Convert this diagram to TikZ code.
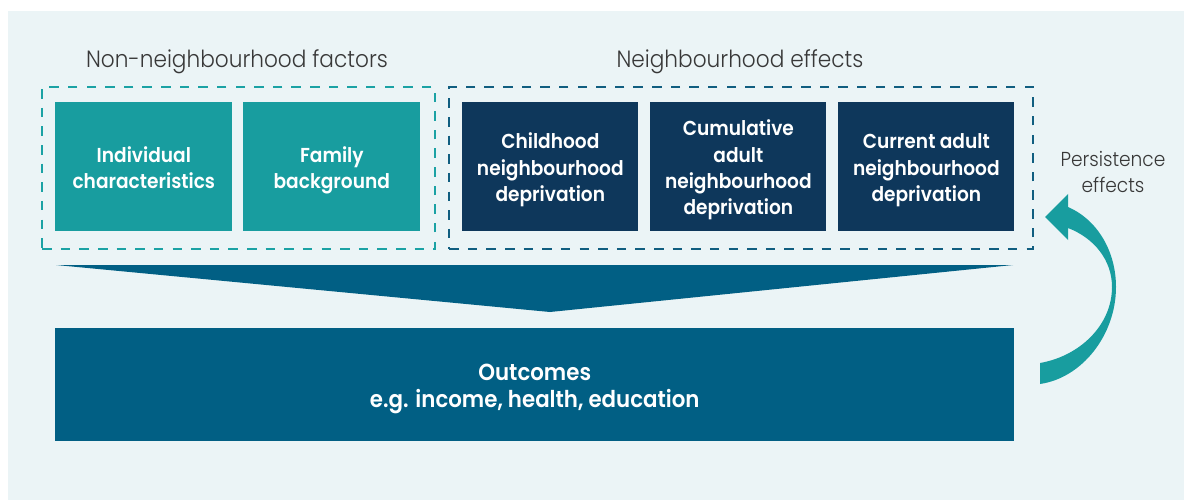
\documentclass[tikz,border=0pt]{standalone}
\usepackage{fontspec}
\setmainfont{Poppins}[BoldFont={Poppins SemiBold},FakeStretch=0.92]
\newfontfamily\lightfont{Poppins Light}[FakeStretch=0.92]
\definecolor{panel}{HTML}{EBF4F6}
\definecolor{tealbox}{HTML}{189D9F}
\definecolor{navybox}{HTML}{0E375B}
\definecolor{outblue}{HTML}{015F84}
\definecolor{tealdash}{HTML}{1BA2A4}
\definecolor{navydash}{HTML}{115E80}
\definecolor{greytext}{HTML}{383838}
% every line gets a strut; the first line is a little taller so the block sits lower
\newcommand{\boxline}[1]{\strut#1}
\newcommand{\firstline}[2][14pt]{\rule{0pt}{#1}\strut#2}
\tikzset{
  factor/.style={fill=tealbox, text=white, font=\bfseries\fontsize{11.5}{15}\selectfont,
    align=center, anchor=north west, minimum width=3.54cm, minimum height=2.58cm, inner sep=0pt},
  effect/.style={factor, fill=navybox, minimum width=3.52cm},
  frame/.style={draw=#1, line width=1.4pt, dash pattern=on 5.4pt off 5.2pt,
    anchor=north west, inner sep=0pt},
  header/.style={text=greytext, font=\lightfont\fontsize{13.4}{15}\selectfont, anchor=base},
}
\begin{document}
\begin{tikzpicture}[x=0.02cm, y=-0.02cm]
  % canvas and light panel
  \useasboundingbox (0,0) rectangle (1184,500);
  \fill[white] (0,0) rectangle (1184,500);
  \fill[panel] (8,11) rectangle (1184,500);

  % group headings
  \node[header] (hnon) at (237,68) {Non-neighbourhood factors};
  \node[header] (hnb) at (740,68) {Neighbourhood effects};

  % dashed group frames
  \node[frame=tealdash, minimum width=7.86cm, minimum height=3.24cm] (gnon) at (41,86) {};
  \node[frame=navydash, minimum width=11.68cm, minimum height=3.24cm] (gnb) at (448,86) {};

  % factor boxes
  \node[factor] (ind) at (55,102) {\firstline{Individual}\\\boxline{characteristics}};
  \node[factor] (fam) at (243,102) {\firstline{Family}\\\boxline{background}};
  \node[effect] (child) at (462,102) {\firstline{Childhood}\\\boxline{neighbourhood}\\\boxline{deprivation}};
  \node[effect] (cum) at (650,102) {\firstline{Cumulative}\\\boxline{adult}\\\boxline{neighbourhood}\\\boxline{deprivation}};
  \node[effect] (cur) at (838,102) {\firstline{Current adult}\\\boxline{neighbourhood}\\\boxline{deprivation}};

  % outcomes bar
  \node[fill=outblue, text=white, font=\bfseries\fontsize{13.2}{15.3}\selectfont, align=center,
    anchor=north west, minimum width=19.18cm, minimum height=2.26cm, inner sep=0pt]
    (out) at (55,328) {\firstline[15.3pt]{Outcomes}\\\boxline{e.g. income, health, education}};

  % funnel from the factors into the outcomes
  \fill[outblue] (56,265) -- (1013,265) -- (550,312) -- cycle;

  % persistence arrow curling back up from the outcomes
  \fill[tealbox] (1068,207) .. controls (1098,220) and (1116,252) .. (1116,287)
    .. controls (1116,335) and (1082,378) .. (1040,384)
    -- (1040,363)
    .. controls (1080,356) and (1112,325) .. (1112,287)
    .. controls (1112,260) and (1094,238) .. (1068,228)
    -- (1068,240) -- (1045,217) -- (1068,194) -- cycle;
  \node[text=greytext, font=\lightfont\fontsize{11.5}{14.7}\selectfont, align=center, anchor=north]
    (pers) at (1113,145) {Persistence\\effects};
\end{tikzpicture}
\end{document}
